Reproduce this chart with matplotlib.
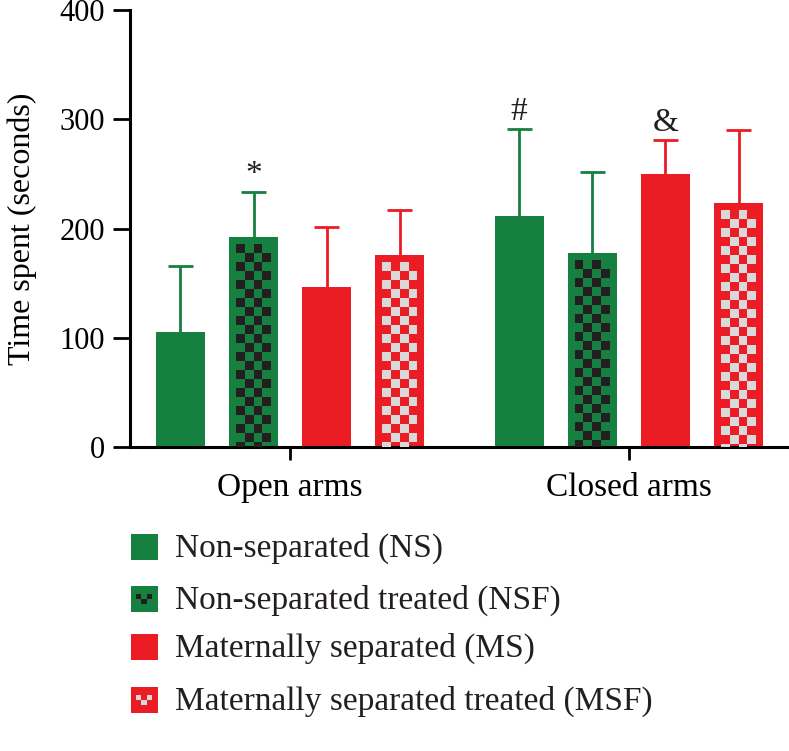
import numpy as np
import matplotlib
matplotlib.use("Agg")
import matplotlib.pyplot as plt
from matplotlib.patches import Rectangle

plt.rcParams['font.family'] = ['Liberation Serif', 'DejaVu Serif']

# data
arms = ['Open arms', 'Closed arms']
groups = ['Non-separated (NS)', 'Non-separated treated (NSF)',
          'Maternally separated (MS)', 'Maternally separated treated (MSF)']
means = [[105, 192, 146, 176],
         [211, 178, 250, 223]]
errs = [[61, 41, 55, 41],
        [80, 74, 31, 67]]
marks = [['', '*', '', ''],
         ['#', '', '&', '']]

green = '#15803f'
red = '#ec1c24'
colors = [green, green, red, red]
checker = [None, '#231f20', None, '#d9d9d9']

fig = plt.figure(figsize=(7.89, 7.51), dpi=100)
W, H = 789, 751
ax = fig.add_axes([130 / W, 1 - 447 / H, (788 - 130) / W, (447 - 10) / H])

step = 0.216
width = 0.145
px_x = 1 / 338.0          # data units per pixel along x
px_y = 400 / 437.0        # data units per pixel along y
cap = 25 * px_x

for gi, arm in enumerate(arms):
    for bi in range(4):
        x = gi + (bi - 1.5) * step
        m = means[gi][bi]
        e = errs[gi][bi]
        ax.bar(x, m, width=width, color=colors[bi], lw=0, zorder=2)
        # upper error bar only
        ax.vlines(x, m - 2, m + e, color=colors[bi], lw=2, zorder=1)
        ax.hlines(m + e, x - cap / 2, x + cap / 2, color=colors[bi], lw=2, zorder=1)
        if checker[bi]:
            border_x = 7 * px_x
            cw = (width - 2 * border_x) / 4
            ch = 9 * px_y
            top = m - 7 * px_y
            nrows = int(np.ceil(top / ch))
            for r in range(nrows):
                y1 = top - (r + 1) * ch
                y0 = max(y1, 0)
                hgt = top - r * ch - y0
                for c in range(4):
                    if (r + c) % 2 == 0:
                        ax.add_patch(Rectangle((x - width / 2 + border_x + c * cw, y0),
                                               cw, hgt, color=checker[bi],
                                               lw=0, zorder=3))
        if marks[gi][bi]:
            ax.text(x, m + e + 2, marks[gi][bi], ha='center',
                    va='bottom', fontsize=24, color='#231f20')

ax.set_xlim(-0.473, 1.47)
ax.set_ylim(0, 400)
ax.set_yticks([0, 100, 200, 300, 400])
ax.set_xticks([0, 1])
ax.set_xticklabels(arms)
ax.set_ylabel('Time spent (seconds)', fontsize=23, labelpad=16)
ax.tick_params(axis='y', length=12, width=2, labelsize=22, pad=6)
ax.tick_params(axis='x', length=9, width=2, labelsize=24, pad=9)
for s in ['top', 'right']:
    ax.spines[s].set_visible(False)
for s in ['left', 'bottom']:
    ax.spines[s].set_linewidth(2.2)

# legend drawn by hand below the plot
lax = fig.add_axes([0, 0, 1, 1])
lax.set_xlim(0, W)
lax.set_ylim(H, 0)
lax.axis('off')
row_y = [547, 599, 647, 700]
for i, lab in enumerate(groups):
    y = row_y[i]
    lax.add_patch(Rectangle((131, y - 13), 27, 26, color=colors[i], lw=0))
    if checker[i]:
        for r in range(2):
            for c in range(3):
                if (r + c) % 2 == 0:
                    lax.add_patch(Rectangle((136 + c * 5.5, y - 5 + r * 5), 5.5, 5,
                                            color=checker[i], lw=0))
    lax.text(175, y + 1, lab, fontsize=24, va='center', ha='left', color='#231f20')

fig.savefig('out.png', dpi=100)
